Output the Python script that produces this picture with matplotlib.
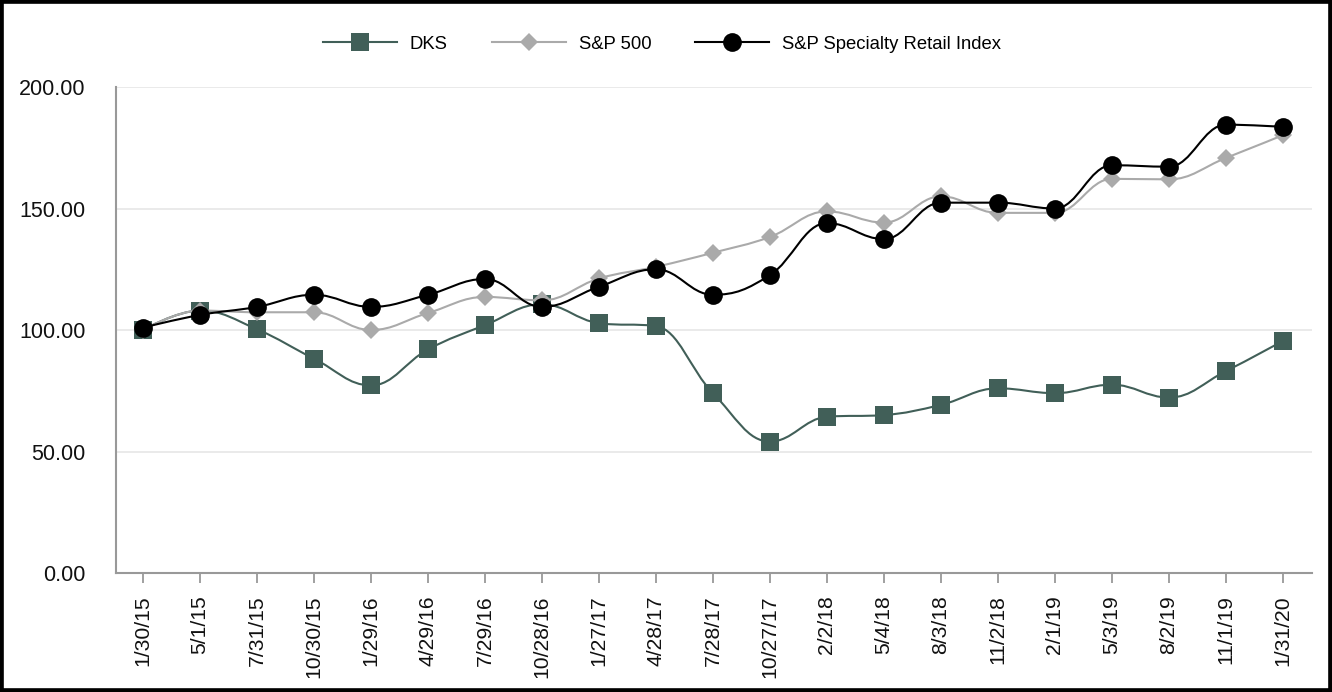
import matplotlib
matplotlib.use("Agg")
import matplotlib.pyplot as plt
from matplotlib.path import Path
from matplotlib.patches import PathPatch, Rectangle
from matplotlib.lines import Line2D

plt.rcParams['font.family'] = ['Liberation Sans', 'DejaVu Sans']

dates = ["1/30/15", "5/1/15", "7/31/15", "10/30/15", "1/29/16", "4/29/16", "7/29/16",
         "10/28/16", "1/27/17", "4/28/17", "7/28/17", "10/27/17", "2/2/18", "5/4/18",
         "8/3/18", "11/2/18", "2/1/19", "5/3/19", "8/2/19", "11/1/19", "1/31/20"]
dks = [100.0, 108.0, 100.3, 88.2, 77.2, 92.0, 102.0, 110.6, 102.8, 101.6, 74.0,
       54.1, 64.3, 65.0, 69.2, 76.0, 74.0, 77.5, 72.2, 83.1, 95.5]
sp500 = [100.0, 108.0, 107.3, 107.3, 100.0, 107.0, 113.6, 112.2, 121.2, 126.0, 131.8,
         138.3, 148.8, 144.2, 155.0, 148.2, 148.2, 162.2, 162.0, 170.8, 180.2]
retail = [101.0, 106.2, 109.5, 114.5, 109.5, 114.5, 121.0, 109.5, 117.8, 125.0, 114.5,
          122.6, 144.0, 137.4, 152.4, 152.4, 150.0, 167.8, 167.2, 184.5, 183.6]

series = [
    ("DKS", dks, "#415f58", "s", 13.5, 1.5),
    ("S&P 500", sp500, "#aaaaaa", "D", 9.5, 1.5),
    ("S&P Specialty Retail Index", retail, "#000000", "o", 13.5, 1.5),
]


def spline_path(xs, ys, smoothing=1.5):
    n = len(xs)
    denom = smoothing + 1
    left = [None] * n
    right = [None] * n
    for i in range(1, n - 1):
        px, py = xs[i], ys[i]
        lx, ly = xs[i - 1], ys[i - 1]
        nx, ny = xs[i + 1], ys[i + 1]
        lcx = (smoothing * px + lx) / denom
        lcy = (smoothing * py + ly) / denom
        rcx = (smoothing * px + nx) / denom
        rcy = (smoothing * py + ny) / denom
        corr = 0.0
        if rcx != lcx:
            corr = (rcy - lcy) * (rcx - px) / (rcx - lcx) + py - rcy
        lcy += corr
        rcy += corr
        if lcy > ly and lcy > py:
            lcy = max(ly, py)
            rcy = 2 * py - lcy
        elif lcy < ly and lcy < py:
            lcy = min(ly, py)
            rcy = 2 * py - lcy
        if rcy > ny and rcy > py:
            rcy = max(ny, py)
            lcy = 2 * py - rcy
        elif rcy < ny and rcy < py:
            rcy = min(ny, py)
            lcy = 2 * py - rcy
        left[i] = (lcx, lcy)
        right[i] = (rcx, rcy)
    verts = [(xs[0], ys[0])]
    codes = [Path.MOVETO]
    for i in range(1, n):
        c1 = right[i - 1] if right[i - 1] is not None else (xs[i - 1], ys[i - 1])
        c2 = left[i] if left[i] is not None else (xs[i], ys[i])
        verts += [c1, c2, (xs[i], ys[i])]
        codes += [Path.CURVE4, Path.CURVE4, Path.CURVE4]
    return Path(verts, codes)


fig = plt.figure(figsize=(13.32, 6.92), dpi=100)
ax = fig.add_axes([116 / 1332, 1 - 573 / 692, (1312 - 116) / 1332, (573 - 87) / 692])

xs = list(range(len(dates)))
handles = []
for z, (name, vals, color, marker, ms, lw) in enumerate(series):
    p = spline_path(xs, vals)
    ax.add_patch(PathPatch(p, facecolor="none", edgecolor=color, lw=lw, zorder=3 + z))
    ax.plot(xs, vals, linestyle="none", marker=marker, markersize=ms, color=color,
            markeredgewidth=0, zorder=3 + z)
    handles.append(Line2D([], [], color=color, lw=lw, marker=marker, markersize=ms,
                          markeredgewidth=0, label=name))

ax.set_xlim(-0.474, 20.51)
ax.set_ylim(0, 200)
ax.set_yticks([0, 50, 100, 150, 200])
ax.set_yticklabels([f"{v:.2f}" for v in [0, 50, 100, 150, 200]])
ax.set_xticks(xs)
ax.set_xticklabels(dates, rotation=90)

ax.grid(axis="y", color="#e6e6e6", lw=1.2, zorder=0)
ax.set_axisbelow(True)
for s in ["top", "right"]:
    ax.spines[s].set_visible(False)
for s in ["left", "bottom"]:
    ax.spines[s].set_color("#999999")
    ax.spines[s].set_linewidth(1.5)

ax.tick_params(axis="y", length=0, pad=22, labelsize=15.5, labelcolor="#111111")
ax.tick_params(axis="x", length=7.5, width=1.3, color="#999999", pad=8.5,
               labelsize=15.2, labelcolor="#111111")

fig.legend(handles=handles, loc="center", bbox_to_anchor=(0.497, 0.936), ncol=3,
           frameon=False, fontsize=13.3, handlelength=4.0, handletextpad=0.7,
           columnspacing=2.4)

fig.patches.append(Rectangle((0, 0), 1, 1, transform=fig.transFigure, fill=False,
                             edgecolor="black", lw=5.5, zorder=10))

fig.savefig("out.png", dpi=100)
